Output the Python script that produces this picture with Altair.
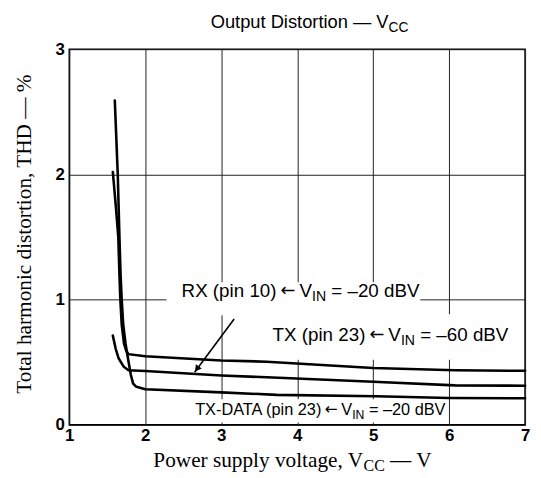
import altair as alt
import pandas as pd

# ---------------- data ----------------
x_ticks = [1, 2, 3, 4, 5, 6, 7]
y_ticks = [0, 1, 2, 3]

# TX (pin 23) <- VIN = -60 dBV  (upper flat curve)
tx_x = [1.573, 1.612, 1.645, 1.66, 1.672, 1.69, 1.72, 1.75, 1.78, 2.0, 3.0, 3.6, 5.0, 6.08, 7.0]
tx_y = [2.02, 1.75, 1.50, 1.20, 1.00, 0.80, 0.65, 0.59, 0.565, 0.548, 0.514, 0.505, 0.455, 0.437, 0.432]

# RX (pin 10) <- VIN = -20 dBV  (middle curve)
rx_x = [1.573, 1.61, 1.65, 1.716, 1.78, 2.0, 3.0, 3.6, 5.0, 6.08, 7.0]
rx_y = [0.713, 0.61, 0.53, 0.465, 0.437, 0.43, 0.395, 0.38, 0.345, 0.316, 0.313]

# TX-DATA (pin 23) <- VIN = -20 dBV  (lower curve)
txd_x = [1.599, 1.638, 1.66, 1.675, 1.69, 1.71, 1.74, 1.78, 1.81, 1.84, 1.88, 1.93, 2.0, 3.0, 3.73, 5.04, 6.0, 7.0]
txd_y = [2.59, 2.0, 1.5, 1.2, 1.0, 0.8, 0.65, 0.505, 0.40, 0.33, 0.305, 0.297, 0.285, 0.26, 0.24, 0.229, 0.215, 0.213]

# pointer arrow (tail -> head)
arrow_x = [3.17, 2.65]
arrow_y = [0.845, 0.42]

# label texts: left part, arrow, "V", subscript, rest
label_left = ["RX (pin 10)", "TX (pin 23)", "TX-DATA (pin 23)"]
label_arrow = "\u2190"
label_v = "V"
label_sub = "IN"
label_rest = ["= \u201320 dBV", "= \u201360 dBV", "= \u201320 dBV"]
label_x = [4.03, 5.2, 4.58]       # x of the "V" (left edge)
label_y = [1.02, 0.673, 0.081]    # baseline
label_size = [19, 19, 16.5]

# white boxes behind labels
box_x0 = [2.28, 3.54, 2.50]
box_x1 = [5.62, 6.86, 5.90]
box_y0 = [0.876, 0.52, 0.02]
box_y1 = [1.14, 0.884, 0.205]

title_main = "Output Distortion \u2014 V"
title_sub = "CC"
xtitle_main = "Power supply voltage, V"
xtitle_sub = "CC"
xtitle_rest = "\u2014 V"
ytitle = "Total harmonic distortion, THD \u2014 %"

# ---------------- helpers ----------------
SANS = "Liberation Sans"
SERIF = "Liberation Serif"
sans_w = {' ': 278, '(': 333, ')': 333, '-': 333, '=': 584, 'A': 667, 'B': 667, 'C': 722,
          'D': 722, 'I': 278, 'N': 722, 'R': 722, 'T': 611, 'V': 667, 'X': 667, 'd': 556,
          'i': 222, 'n': 556, 'p': 556, 'O': 778, 'u': 556, 't': 278, 's': 500, 'o': 556,
          'r': 333, '\u2013': 556, '\u2014': 1000}
serif_w = {' ': 250, ',': 250, 'P': 556, 'o': 500, 'w': 722, 'e': 444, 'r': 333, 's': 389,
           'u': 500, 'p': 500, 'l': 278, 'y': 500, 'v': 500, 't': 278, 'a': 444, 'g': 500,
           'V': 722, 'C': 667, '\u2014': 1000}


def tw(s, size, table):
    return sum(table.get(c, 556) for c in s) * size / 1000.0


W, H = 461, 380
xs = alt.Scale(domain=[1, 7], nice=False, zero=False)
ys = alt.Scale(domain=[0, 3], nice=False, zero=False)
x_axis = alt.Axis(values=x_ticks, title=None, grid=True, ticks=False, domain=False,
                  labelFont=SANS, labelFontWeight="bold", labelFontSize=17, labelColor="black",
                  labelPadding=3, gridColor="#222", gridWidth=1, labelFlush=False)
y_axis = alt.Axis(values=y_ticks, title=None, grid=True, ticks=False, domain=False,
                  labelFont=SANS, labelFontWeight="bold", labelFontSize=17, labelColor="black",
                  labelPadding=5, labelBaseline="middle", gridColor="#222", gridWidth=1,
                  labelFlush=False)


def X(f):
    return alt.X(f, scale=xs, axis=x_axis)


def Y(f):
    return alt.Y(f, scale=ys, axis=y_axis)


rows = []
for name, xv, yv in [("TX", tx_x, tx_y), ("RX", rx_x, rx_y), ("TXD", txd_x, txd_y)]:
    for i, (a, b) in enumerate(zip(xv, yv)):
        rows.append({"s": name, "i": i, "x": a, "y": b})
curves = pd.DataFrame(rows)

lines = alt.Chart(curves).mark_line(color="black", strokeWidth=2.6, strokeCap="round").encode(
    x=X("x:Q"), y=Y("y:Q"), detail="s:N", order="i:Q")

boxes = alt.Chart(pd.DataFrame({"x0": box_x0, "x1": box_x1, "y0": box_y0, "y1": box_y1})).mark_rect(
    color="white").encode(x=X("x0:Q"), x2="x1:Q", y=Y("y0:Q"), y2="y1:Q")

arrow_df = pd.DataFrame({"x": arrow_x, "y": arrow_y, "i": [0, 1]})
arrow_line = alt.Chart(arrow_df).mark_line(color="black", strokeWidth=1.6).encode(
    x=X("x:Q"), y=Y("y:Q"), order="i:Q")
head = alt.Chart(pd.DataFrame({"x": [arrow_x[1] + 0.03], "y": [arrow_y[1] + 0.027]})).mark_point(
    shape="triangle-up", filled=True, color="black", size=55, angle=217, opacity=1).encode(
    x=X("x:Q"), y=Y("y:Q"))

layers = [boxes, lines, arrow_line, head]

# curve labels with subscripts, anchored at the left edge of "V"
for k in range(3):
    f = label_size[k]
    fs = f * 0.75
    g = 22 * f / 18.0
    wv = tw(label_v, f, sans_w)
    wsub = tw(label_sub, fs, sans_w)
    segs = [(label_left[k], f, -g, 0, "right", SANS),
            (label_arrow, f * 0.95, -g / 2.0, -1, "center", "DejaVu Sans"),
            (label_v, f, 0.0, 0, "left", SANS),
            (label_sub, fs, wv, 4, "left", SANS),
            (label_rest[k], f, wv + wsub + tw(" ", f, sans_w), 0, "left", SANS)]
    for txt, size, dx, dy, al, fnt in segs:
        layers.append(
            alt.Chart(pd.DataFrame({"x": [label_x[k]], "y": [label_y[k]], "t": [txt]})).mark_text(
                align=al, baseline="alphabetic", font=fnt, fontSize=size, dx=dx, dy=dy,
                color="black").encode(x=X("x:Q"), y=Y("y:Q"), text="t:N"))

# chart title with subscript (pixel placement relative to plot area)
tf = 18.5
tx0 = 143
for txt, size, dx, dy in [(title_main, tf, 0, 0), (title_sub, tf * 0.75, tw(title_main, tf, sans_w), 4)]:
    layers.append(alt.Chart(pd.DataFrame({"t": [txt]})).mark_text(
        align="left", baseline="alphabetic", font=SANS, fontSize=size, dx=dx, dy=dy, color="black").encode(
        x=alt.value(tx0), y=alt.value(-21), text="t:N"))

# x axis title with subscript
xf = 21.5
xx0 = 85
w1 = tw(xtitle_main, xf, serif_w)
w2 = tw(xtitle_sub, xf * 0.75, serif_w)
xsegs = [(xtitle_main, xf, 0, 0), (xtitle_sub, xf * 0.75, w1, 4),
         (xtitle_rest, xf, w1 + w2 + tw(" ", xf, serif_w), 0)]
for txt, size, dx, dy in xsegs:
    layers.append(alt.Chart(pd.DataFrame({"t": [txt]})).mark_text(
        align="left", baseline="alphabetic", font=SERIF, fontSize=size, dx=dx, dy=dy, color="black").encode(
        x=alt.value(xx0), y=alt.value(423), text="t:N"))

# y axis title
layers.append(alt.Chart(pd.DataFrame({"t": [ytitle]})).mark_text(
    align="center", baseline="middle", font=SERIF, fontSize=21.5, angle=270, color="black").encode(
    x=alt.value(-45), y=alt.value(187), text="t:N"))

chart = alt.layer(*layers).properties(
    width=W, height=H,
    autosize=alt.AutoSizeParams(type="none"),
    padding={"left": 62, "top": 39, "right": 8, "bottom": 50},
).configure(background="white").configure_view(stroke="black", strokeWidth=1.6)

chart.save("out.html", embed_options={"renderer": "svg", "actions": False})
